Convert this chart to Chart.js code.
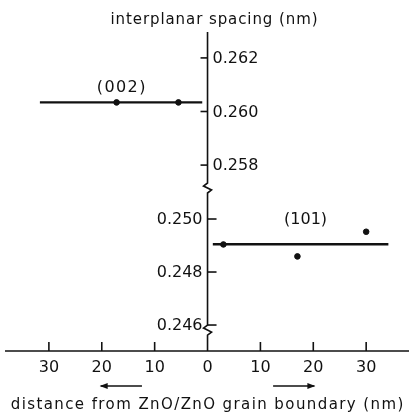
<!DOCTYPE html>
<html>
<head>
<meta charset="utf-8">
<script src="https://cdn.jsdelivr.net/npm/chart.js@4.4.1/dist/chart.umd.min.js"></script>
<style>
  html, body { margin: 0; padding: 0; background: #ffffff; }
  #wrap { width: 414px; height: 414px; }
</style>
</head>
<body>
<div id="wrap"><canvas id="spacingChart" width="414" height="414"></canvas></div>
<script>
// (002) planes, left of the boundary
const distance002 = [-17.2, -5.5];
const spacing002 = [0.26034, 0.26034];
const fitRange002 = [-31.7, -1.0];
const fitLevel002 = 0.26034;

// (101) planes, right of the boundary
const distance101 = [3.0, 17.0, 30.0];
const spacing101 = [0.24904, 0.24859, 0.24952];
const fitRange101 = [1.0, 34.2];
const fitLevel101 = 0.24905;

const xTickValues = [-30, -20, -10, 0, 10, 20, 30];
const upperTickValues = [0.258, 0.260, 0.262];
const lowerTickValues = [0.246, 0.248, 0.250];

const ink = "#111111";
const tickFont = "16px 'DejaVu Sans'";
const titleFont = "15px 'DejaVu Sans'";

function toPoints(xs, ys) {
  return xs.map((x, i) => ({ x, y: ys[i] }));
}

function fitLine(range, level) {
  return range.map((x) => ({ x, y: level }));
}

// text stretched to a given width, like the hand lettering of the original
function spacedText(ctx, text, x, y, width) {
  ctx.letterSpacing = "0px";
  const natural = ctx.measureText(text).width;
  const extra = Math.max(0, (width - natural) / text.length);
  ctx.letterSpacing = extra + "px";
  ctx.fillText(text, x + extra / 2, y);
  ctx.letterSpacing = "0px";
}

function zigzag(ctx, x, y) {
  ctx.lineTo(x, y - 5);
  ctx.lineTo(x - 4, y - 2);
  ctx.lineTo(x + 4, y + 2);
  ctx.lineTo(x, y + 5);
}

// two y scales share one axis line: the upper one ends at the break
const splitAxes = {
  id: "splitAxes",
  afterLayout(chart) {
    const area = chart.chartArea;
    const breakY = 188;
    const upper = chart.scales.yUpper;
    const lower = chart.scales.yLower;
    upper.top = area.top;
    upper.bottom = breakY;
    upper.height = breakY - area.top;
    upper.configure();
    lower.top = breakY;
    lower.bottom = area.bottom;
    lower.height = area.bottom - breakY;
    lower.configure();
  }
};

const axesPainter = {
  id: "axesPainter",
  afterDraw(chart) {
    const { ctx, chartArea } = chart;
    const xScale = chart.scales.x;
    const upper = chart.scales.yUpper;
    const lower = chart.scales.yLower;
    const x0 = xScale.getPixelForValue(0);
    const baseY = chartArea.bottom;

    ctx.save();
    ctx.strokeStyle = ink;
    ctx.fillStyle = ink;
    ctx.lineWidth = 1.6;

    // horizontal axis
    ctx.beginPath();
    ctx.moveTo(chartArea.left, baseY);
    ctx.lineTo(chartArea.right, baseY);
    ctx.stroke();

    // vertical axis with two breaks
    const lowBreak = lower.getPixelForValue(0.246) + 5;
    ctx.beginPath();
    ctx.moveTo(x0, chartArea.top);
    zigzag(ctx, x0, upper.bottom);
    zigzag(ctx, x0, lowBreak);
    ctx.lineTo(x0, baseY);
    ctx.stroke();

    ctx.font = tickFont;
    ctx.textBaseline = "middle";

    // x ticks point up, labels show distance either side of the boundary
    ctx.textAlign = "center";
    xTickValues.forEach((v) => {
      const px = xScale.getPixelForValue(v);
      if (v !== 0) {
        ctx.beginPath();
        ctx.moveTo(px, baseY);
        ctx.lineTo(px, baseY - 9);
        ctx.stroke();
      }
      ctx.fillText(String(Math.abs(v)), px, baseY + 17);
    });

    // upper ticks: mark to the left, label to the right
    ctx.textAlign = "left";
    upperTickValues.forEach((v) => {
      const py = upper.getPixelForValue(v);
      ctx.beginPath();
      ctx.moveTo(x0, py);
      ctx.lineTo(x0 - 7, py);
      ctx.stroke();
      ctx.fillText(v.toFixed(3), x0 + 5, py + 1);
    });

    // lower ticks: mark to the right, label to the left
    ctx.textAlign = "right";
    lowerTickValues.forEach((v) => {
      const py = lower.getPixelForValue(v);
      ctx.beginPath();
      ctx.moveTo(x0, py);
      ctx.lineTo(x0 + 9, py);
      ctx.stroke();
      ctx.fillText(v.toFixed(3), x0 - 5, py + 1);
    });

    // plane labels above their fitted lines
    ctx.textAlign = "center";
    ctx.textBaseline = "alphabetic";
    const mid002 = (fitRange002[0] + fitRange002[1]) / 2;
    const mid101 = (fitRange101[0] + fitRange101[1]) / 2;
    spacedText(ctx, "(002)", xScale.getPixelForValue(mid002), upper.getPixelForValue(fitLevel002) - 10, 50);
    spacedText(ctx, "(101)", xScale.getPixelForValue(mid101) + 5, lower.getPixelForValue(fitLevel101) - 20, 40);

    // direction arrows
    ctx.lineWidth = 1.4;
    const arrowY = baseY + 35;
    const arrows = [[-12.4, -20.2], [12.4, 20.2]];
    arrows.forEach(([from, to]) => {
      const a = xScale.getPixelForValue(from);
      const b = xScale.getPixelForValue(to);
      const dir = Math.sign(b - a);
      ctx.beginPath();
      ctx.moveTo(a, arrowY);
      ctx.lineTo(b, arrowY);
      ctx.stroke();
      ctx.beginPath();
      ctx.moveTo(b + dir * 1, arrowY);
      ctx.lineTo(b - dir * 7, arrowY - 3);
      ctx.lineTo(b - dir * 7, arrowY + 3);
      ctx.closePath();
      ctx.fill();
    });

    // axis titles
    ctx.font = titleFont;
    ctx.textBaseline = "middle";
    spacedText(ctx, "interplanar spacing (nm)", 214, 20, 208);
    spacedText(ctx, "distance from ZnO/ZnO grain boundary (nm)", 207, 405, 394);

    ctx.restore();
  }
};

new Chart(document.getElementById("spacingChart"), {
  data: {
    datasets: [
      {
        type: "line",
        label: "(002) fit",
        data: fitLine(fitRange002, fitLevel002),
        yAxisID: "yUpper",
        borderColor: ink,
        borderWidth: 2.4,
        pointRadius: 0
      },
      {
        type: "scatter",
        label: "(002)",
        data: toPoints(distance002, spacing002),
        yAxisID: "yUpper",
        backgroundColor: ink,
        borderColor: ink,
        pointRadius: 2.8
      },
      {
        type: "line",
        label: "(101) fit",
        data: fitLine(fitRange101, fitLevel101),
        yAxisID: "yLower",
        borderColor: ink,
        borderWidth: 2.4,
        pointRadius: 0
      },
      {
        type: "scatter",
        label: "(101)",
        data: toPoints(distance101, spacing101),
        yAxisID: "yLower",
        backgroundColor: ink,
        borderColor: ink,
        pointRadius: 2.8
      }
    ]
  },
  options: {
    responsive: false,
    animation: false,
    devicePixelRatio: 1,
    layout: {
      padding: { left: 5, right: 4, top: 32, bottom: 63 }
    },
    plugins: {
      legend: { display: false },
      tooltip: { enabled: false }
    },
    scales: {
      x: { type: "linear", min: -38.3, max: 38.1, display: false },
      yUpper: { type: "linear", min: 0.257145, max: 0.262967, display: false },
      yLower: { type: "linear", min: 0.24502, max: 0.25117, display: false }
    }
  },
  plugins: [splitAxes, axesPainter]
});
</script>
</body>
</html>
